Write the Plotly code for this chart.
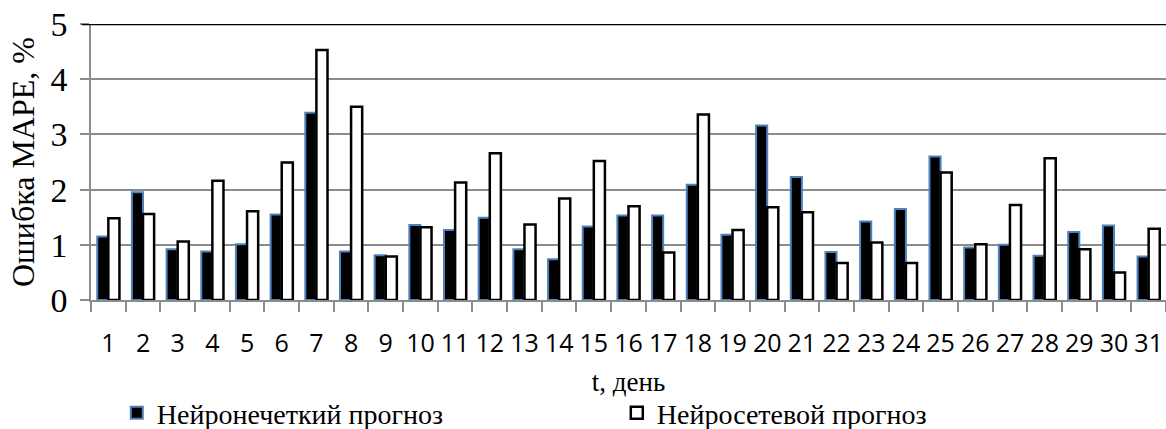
import plotly.graph_objects as go

days = [str(i) for i in range(1, 32)]
neuro_fuzzy = [1.15, 1.95, 0.92, 0.88, 1.01, 1.55, 3.39, 0.88, 0.81, 1.36,
               1.27, 1.49, 0.92, 0.74, 1.33, 1.53, 1.53, 2.09, 1.18, 3.16,
               2.23, 0.87, 1.42, 1.65, 2.60, 0.95, 1.00, 0.80, 1.23, 1.35, 0.79]
neural_net = [1.48, 1.56, 1.06, 2.16, 1.61, 2.49, 4.53, 3.50, 0.79, 1.32,
              2.13, 2.66, 1.37, 1.84, 2.52, 1.70, 0.86, 3.36, 1.27, 1.68,
              1.59, 0.67, 1.04, 0.67, 2.31, 1.01, 1.72, 2.57, 0.92, 0.50, 1.29]
y_ticks = [0, 1, 2, 3, 4, 5]

serif = "Liberation Serif"
sans = "Open Sans"

fig = go.Figure()
fig.add_trace(go.Bar(
    x=days, y=neuro_fuzzy, name="Нейронечеткий прогноз",
    marker=dict(color="#000000", line=dict(color="#4F81BD", width=2)),
))
fig.add_trace(go.Bar(
    x=days, y=neural_net, name="Нейросетевой прогноз",
    marker=dict(color="#ffffff", line=dict(color="#000000", width=2.5)),
))

# top border line at y = 5
fig.add_shape(type="line", xref="paper", yref="y", x0=-0.0085, x1=1, y0=5, y1=5,
              line=dict(color="#000000", width=2.5), layer="above")

fig.update_layout(
    width=1166, height=429,
    margin=dict(l=91, r=0, t=24, b=129, autoexpand=False),
    paper_bgcolor="white", plot_bgcolor="white",
    font=dict(family=serif, color="#000000"),
    barmode="group", bargap=0.36, bargroupgap=0,
    showlegend=True,
    legend=dict(orientation="h", x=0.024, xanchor="left", y=-0.41, yanchor="middle",
                font=dict(family=serif, size=28, color="#000000"),
                entrywidth=455, entrywidthmode="pixels",
                bgcolor="rgba(0,0,0,0)"),
    xaxis=dict(
        type="category", tickson="boundaries", ticks="outside", ticklen=10,
        tickcolor="#8c8c8c", tickwidth=1.5, tickangle=0,
        showline=True, linecolor="#8c8c8c", linewidth=1.5,
        showgrid=False, automargin=False,
        tickfont=dict(family=sans, size=25, color="#000000"),
        ticklabelstandoff=20,
        title=dict(text="t, день", font=dict(family=serif, size=27, color="#000000"),
                   standoff=14),
    ),
    yaxis=dict(
        range=[0, 5], tickvals=y_ticks, ticks="outside", ticklen=9,
        tickcolor="#8c8c8c", tickwidth=1.5,
        showline=True, linecolor="#8c8c8c", linewidth=1.5,
        showgrid=True, gridcolor="#8c8c8c", gridwidth=1.5,
        zeroline=False, automargin=False,
        tickfont=dict(family=serif, size=34, color="#000000"),
        ticklabelstandoff=6,
        title=dict(text="Ошибка MAPE, %", font=dict(family=serif, size=32, color="#000000"),
                   standoff=6),
    ),
)

fig.write_html("out.html")
